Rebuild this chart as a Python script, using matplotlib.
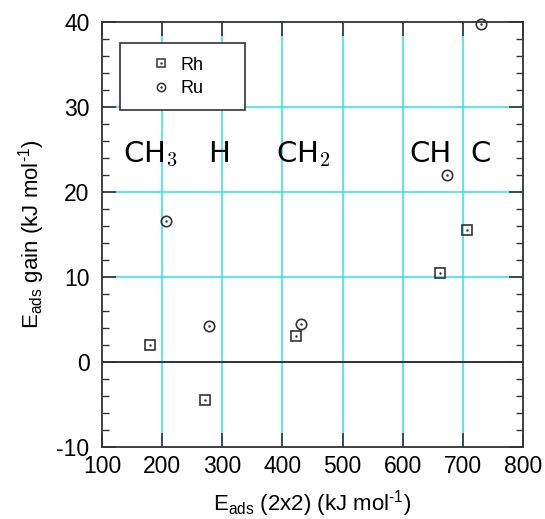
import matplotlib.pyplot as plt
from matplotlib.lines import Line2D
from matplotlib.legend_handler import HandlerTuple

# data
rh_x = [180.5, 272, 422, 662, 706.5]
rh_y = [2.0, -4.45, 3.0, 10.4, 15.5]
ru_x = [206.7, 278, 430, 673, 730.5]
ru_y = [16.6, 4.2, 4.5, 22.0, 39.7]

species = [r'CH$_3$', 'H', r'CH$_2$', 'CH', 'C']
species_x = [135, 277, 390, 611, 712]
species_y = 23.5

plt.rcParams['font.family'] = ['Liberation Sans', 'DejaVu Sans']
plt.rcParams['mathtext.fontset'] = 'custom'
plt.rcParams['mathtext.rm'] = 'Liberation Sans'
plt.rcParams['mathtext.it'] = 'Liberation Sans:italic'
plt.rcParams['axes.unicode_minus'] = False

edge = '#333333'
cyan = '#30e0ea'

fig = plt.figure(figsize=(5.45, 5.19), dpi=100)
ax = fig.add_axes([0.187, 0.139, 0.773, 0.819])

ax.set_xlim(100, 800)
ax.set_ylim(-10, 40)
ax.set_xticks(range(100, 801, 100))
ax.set_yticks(range(-10, 41, 10))
ax.set_yticks(range(-10, 41, 2), minor=True)

# cyan grid, inner lines only
for gx in range(200, 800, 100):
    ax.axvline(gx, color=cyan, lw=1.1, zorder=0)
for gy in [10, 20, 30]:
    ax.axhline(gy, color=cyan, lw=1.1, zorder=0)
ax.axhline(0, color=edge, lw=1.4, zorder=1)

ax.plot(rh_x, rh_y, 's', ms=7.5, mfc='none', mec=edge, mew=1.2, zorder=3, clip_on=False)
ax.plot(rh_x, rh_y, '.', ms=1.5, color=edge, zorder=3)
ax.plot(ru_x, ru_y, 'o', ms=7.5, mfc='none', mec=edge, mew=1.2, zorder=3, clip_on=False)
ax.plot(ru_x, ru_y, '.', ms=1.5, color=edge, zorder=3)

for lab, sx in zip(species, species_x):
    ax.text(sx, species_y, lab, fontsize=21, family='DejaVu Sans',
            math_fontfamily='cm', ha='left', va='baseline', color='black')

ax.tick_params(which='both', direction='in', top=True, right=True, colors=edge,
               labelcolor='black', labelsize=16.5)
ax.tick_params(axis='y', pad=9)
ax.tick_params(axis='x', pad=6)
ax.tick_params(which='major', length=10, width=1.2)
ax.tick_params(which='minor', length=5, width=1.0)
ax.tick_params(axis='x', which='minor', length=0)
for s in ax.spines.values():
    s.set_color(edge)
    s.set_linewidth(1.3)

ax.set_xlabel(r'E$_{\rm ads}$ (2x2) (kJ mol$^{\text{-1}}$)', fontsize=16, labelpad=7)
ax.set_ylabel(r'E$_{\rm ads}$ gain (kJ mol$^{\text{-1}}$)', fontsize=16, labelpad=7)

sq = Line2D([], [], ls='none', marker='s', ms=6, mfc='none', mec=edge, mew=1.1)
sqd = Line2D([], [], ls='none', marker='.', ms=1.5, color=edge)
ci = Line2D([], [], ls='none', marker='o', ms=6, mfc='none', mec=edge, mew=1.1)
cid = Line2D([], [], ls='none', marker='.', ms=1.5, color=edge)
leg = ax.legend([(sq, sqd), (ci, cid)], ['Rh', 'Ru'],
                handler_map={tuple: HandlerTuple(ndivide=1, pad=0)},
                loc='upper left', bbox_to_anchor=(0.043, 0.95, 0.297, 0.0),
                mode='expand', borderaxespad=0, fontsize=13, numpoints=1,
                handlelength=3.0, handletextpad=-0.4, borderpad=0.75,
                labelspacing=0.35, fancybox=False, framealpha=1)
leg.get_frame().set_edgecolor(edge)
leg.get_frame().set_linewidth(1.2)

fig.savefig('out.png', dpi=100)
